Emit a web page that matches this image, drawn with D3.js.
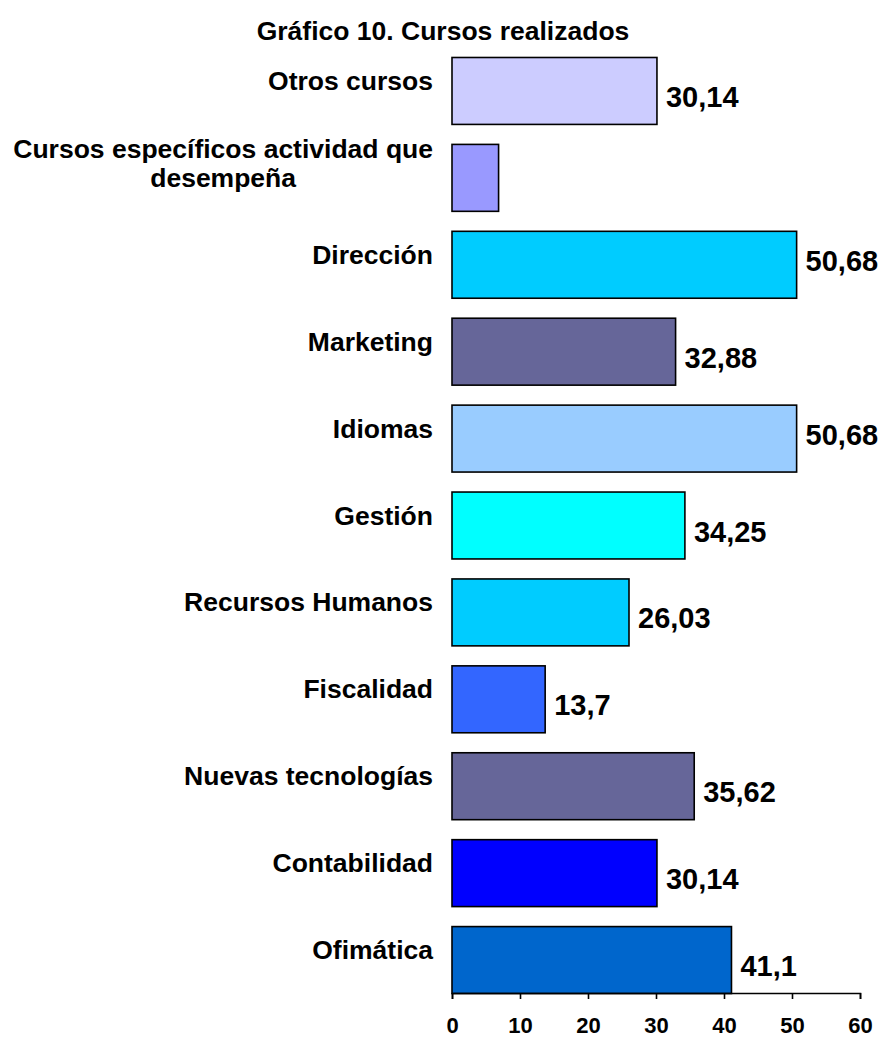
<!DOCTYPE html>
<html><head><meta charset="utf-8">
<script src="https://cdn.jsdelivr.net/npm/d3@7"></script>
<style>
html,body{margin:0;padding:0;background:#fff;}
text{font-family:"Liberation Sans",Arial,sans-serif;font-weight:bold;fill:#000;}
</style></head>
<body><svg id="chart" width="878" height="1037"></svg>
<script>
const title = "Gráfico 10. Cursos realizados";
const categories = [
  ["Otros cursos"],
  ["Cursos específicos actividad que", "desempeña"],
  ["Dirección"],
  ["Marketing"],
  ["Idiomas"],
  ["Gestión"],
  ["Recursos Humanos"],
  ["Fiscalidad"],
  ["Nuevas tecnologías"],
  ["Contabilidad"],
  ["Ofimática"]
];
const values = [30.14, 6.85, 50.68, 32.88, 50.68, 34.25, 26.03, 13.7, 35.62, 30.14, 41.1];
const valueLabels = ["30,14", null, "50,68", "32,88", "50,68", "34,25", "26,03", "13,7", "35,62", "30,14", "41,1"];
const colors = ["#CCCCFF", "#9999FF", "#00CCFF", "#666699", "#99CCFF", "#00FFFF", "#00CCFF", "#3366FF", "#666699", "#0000FF", "#0066CC"];
const ticks = [0, 10, 20, 30, 40, 50, 60];

const svg = d3.select("#chart");
const idx = d3.range(categories.length);

const x = d3.scaleLinear().domain([0, 60]).range([452, 860]);
const y = d3.scaleBand().domain(idx).range([47.5, 1003.5]).paddingInner(0.23).paddingOuter(0.115);

svg.append("text").attr("x", 443).attr("y", 40).attr("text-anchor", "middle")
  .style("font-size", "26.5px").text(title);

// bars
svg.selectAll("rect.bar").data(idx).join("rect").attr("class", "bar")
  .attr("x", x(0)).attr("y", i => y(i))
  .attr("width", i => x(values[i]) - x(0)).attr("height", y.bandwidth())
  .attr("fill", i => colors[i]).attr("stroke", "#000").attr("stroke-width", 1.6);

// category labels
const labelRight = 433;
const catG = svg.append("g");
idx.forEach(i => {
  const lines = categories[i];
  const cy = y(i) + y.bandwidth() / 2;
  const t = catG.append("text").style("font-size", "26.5px");
  const lh = 29;
  const first = cy - 1 - (lines.length - 1) * lh * 0.66;
  lines.forEach((l, k) => {
    t.append("tspan").attr("y", first + k * lh).text(l);
  });
  let maxW = 0;
  t.selectAll("tspan").each(function () { maxW = Math.max(maxW, this.getComputedTextLength()); });
  t.attr("text-anchor", "middle");
  t.selectAll("tspan").attr("x", labelRight - maxW / 2);
});

// value labels
idx.forEach(i => {
  if (!valueLabels[i]) return;
  const cy = y(i) + y.bandwidth() / 2;
  const t = svg.append("text").attr("x", x(values[i]) + 9).style("font-size", "29px").text(valueLabels[i]);
  const w = t.node().getComputedTextLength();
  const overflow = x(values[i]) + 9 + w > x(60);
  t.attr("y", cy + (overflow ? 6 : 16));
});

// x axis
const axisY = 993;
const axis = d3.axisBottom(x).tickValues(ticks).tickSize(6).tickFormat(d3.format("d"));
const ag = svg.append("g").attr("transform", `translate(0,${axisY})`).call(axis);
ag.select(".domain").attr("stroke", "#000").attr("stroke-width", 1.6);
ag.selectAll(".tick line").attr("stroke", "#000").attr("stroke-width", 1.6);
ag.selectAll(".tick text").attr("dy", null).attr("y", 40)
  .style("font-size", "22px").style("font-family", "'Liberation Sans',Arial,sans-serif")
  .style("font-weight", "bold").attr("fill", "#000");
</script></body></html>
